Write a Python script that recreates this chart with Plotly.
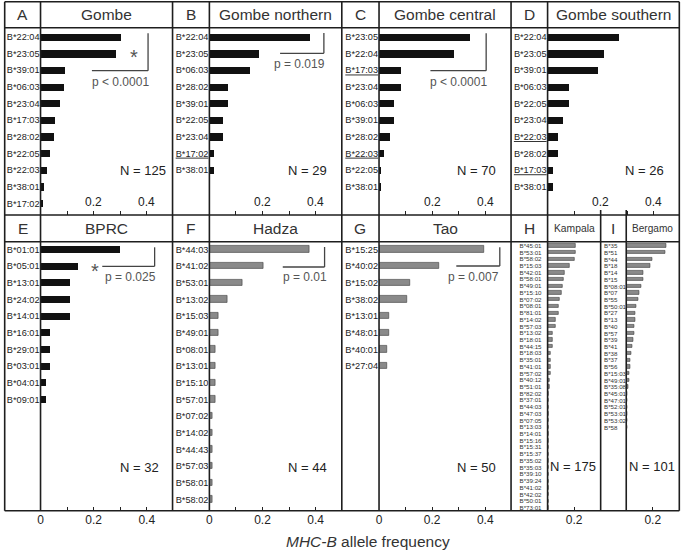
import plotly.graph_objects as go

W, H = 681, 550

# ---------------- data ----------------
a_alleles = ["B*22:04","B*23:05","B*39:01","B*06:03","B*23:04","B*17:03","B*28:02","B*22:05","B*22:03","B*38:01","B*17:02"]
a_freq = [0.302,0.282,0.089,0.086,0.073,0.053,0.049,0.033,0.021,0.013,0.005]

b_alleles = ["B*22:04","B*23:05","B*06:03","B*28:02","B*39:01","B*22:05","B*23:04","B*17:02","B*38:01"]
b_freq = [0.379,0.190,0.156,0.071,0.071,0.053,0.053,0.018,0.018]
b_under = ["B*17:02"]

c_alleles = ["B*23:05","B*22:04","B*17:03","B*23:04","B*06:03","B*39:01","B*28:02","B*22:03","B*22:05","B*38:01"]
c_freq = [0.344,0.282,0.083,0.083,0.056,0.056,0.042,0.020,0.006,0.006]
c_under = ["B*17:03","B*22:03"]

d_alleles = ["B*22:04","B*23:05","B*39:01","B*06:03","B*22:05","B*23:04","B*22:03","B*28:02","B*17:03","B*38:01"]
d_freq = [0.267,0.211,0.190,0.078,0.078,0.058,0.039,0.039,0.019,0.019]
d_under = ["B*22:03","B*17:03"]

e_alleles = ["B*01:01","B*05:01","B*13:01","B*24:02","B*14:01","B*16:01","B*29:01","B*03:01","B*04:01","B*09:01"]
e_freq = [0.297,0.141,0.111,0.111,0.111,0.034,0.034,0.034,0.018,0.018]

f_alleles = ["B*44:03","B*41:02","B*53:01","B*13:02","B*15:03","B*49:01","B*08:01","B*13:01","B*15:10","B*57:01",
             "B*07:02","B*14:02","B*44:43","B*57:03","B*58:01","B*58:02"]
f_freq = [0.375,0.205,0.126,0.069,0.035,0.035,0.024,0.024,0.024,0.024,0.012,0.012,0.012,0.012,0.012,0.012]

g_alleles = ["B*15:25","B*40:02","B*15:02","B*38:02","B*13:01","B*48:01","B*40:01","B*27:04"]
g_freq = [0.394,0.227,0.117,0.107,0.039,0.039,0.029,0.029]

h_alleles = ["B*45:01","B*53:01","B*58:02","B*15:03","B*42:01","B*58:01","B*49:01","B*15:10","B*07:02","B*08:01",
             "B*81:01","B*14:02","B*57:03","B*13:02","B*18:01","B*44:15","B*18:03","B*35:01","B*41:01","B*57:02",
             "B*40:12","B*51:01","B*82:02","B*37:01","B*44:03","B*47:03","B*07:05","B*13:03","B*14:01","B*15:16",
             "B*15:31","B*15:37","B*35:02","B*35:03","B*39:10","B*39:24","B*41:02","B*42:02","B*50:01","B*73:01"]
h_freq = [0.213,0.208,0.203,0.168,0.125,0.118,0.110,0.103,0.093,0.086,
          0.080,0.063,0.058,0.035,0.035,0.035,0.023,0.023,0.023,0.023,
          0.017,0.017,0.011,0.011,0.006,0.006,0.006,0.006,0.006,0.006,
          0.006,0.006,0.006,0.006,0.006,0.006,0.006,0.006,0.006,0.006]

i_alleles = ["B*35","B*51","B*44","B*18","B*14","B*15","B*08:01","B*07","B*55","B*50:01",
             "B*27","B*13","B*40","B*57","B*39","B*41","B*38","B*37","B*56","B*15:03",
             "B*49:01","B*35:08","B*45:01","B*47:01","B*52:01","B*53:01","B*53:02","B*58"]
i_freq = [0.298,0.296,0.195,0.178,0.130,0.130,0.110,0.095,0.088,0.078,
          0.068,0.065,0.063,0.063,0.050,0.045,0.040,0.028,0.028,0.022,
          0.022,0.015,0.010,0.010,0.010,0.010,0.010,0.010]

top_ticks = [0.1, 0.2, 0.3, 0.4]
top_label_vals = [0.2, 0.4]
top_label_text = ["0.2", "0.4"]
bot_ticks = [0, 0.1, 0.2, 0.3, 0.4]
bot_ticktext = ["0", "", "0.2", "", "0.4"]
small_ticks = [0.2]
small_ticktext = ["0.2"]

# ---------------- layout helpers ----------------
def X(px):
    return px / W

def Y(py):
    return 1 - py / H

BLACK = "#111111"
GRAY = "#8a8a8a"
GRAY_LINE = "#3a3a3a"
TXT = "#222222"
FONT = "Liberation Sans"

def ulabel(lbl, under):
    if lbl in under:
        return '<span style="text-decoration:underline">' + lbl + '</span>'
    return lbl

TOP = dict(y0=27.7, y1=215.0, first=37.0, step=16.63)
BOT = dict(y0=241.7, y1=510.7, first=249.3, step=16.67)
SML = dict(y0=241.7, y1=510.7, first=245.7, step=6.72)

panels = [
    (a_alleles, a_freq, [], BLACK, 37.7, 170.3, TOP, 266.7, 0.44, "top"),
    (b_alleles, b_freq, b_under, BLACK, 207.3, 340.3, TOP, 266.7, 0.44, "top"),
    (c_alleles, c_freq, c_under, BLACK, 377.7, 510.3, TOP, 266.7, 0.44, "top"),
    (d_alleles, d_freq, d_under, BLACK, 547.0, 679.0, TOP, 266.7, 0.44, "top"),
    (e_alleles, e_freq, [], BLACK, 37.7, 170.3, BOT, 266.7, 0.42, "bot"),
    (f_alleles, f_freq, [], GRAY, 207.3, 340.3, BOT, 266.7, 0.38, "bot"),
    (g_alleles, g_freq, [], GRAY, 377.7, 510.3, BOT, 266.7, 0.38, "bot"),
    (h_alleles, h_freq, [], GRAY, 547.0, 600.3, SML, 133.3, 0.5, "small"),
    (i_alleles, i_freq, [], GRAY, 626.0, 679.0, SML, 133.3, 0.5, "small_i"),
]

fig = go.Figure()
layout = dict(
    width=W, height=H,
    margin=dict(l=0, r=0, t=0, b=0),
    paper_bgcolor="white", plot_bgcolor="rgba(0,0,0,0)",
    showlegend=False, bargap=0,
    font=dict(family=FONT, color=TXT),
)
annotations = []
shapes = []

for k, (alle, freq, under, col, x0, x1, row, scale, bw, kind) in enumerate(panels):
    n = k + 1
    xa = "x" if n == 1 else "x%d" % n
    ya = "y" if n == 1 else "y%d" % n
    idx = list(range(len(alle)))
    line = dict(color=GRAY_LINE, width=0.6) if col == GRAY else dict(width=0)
    fig.add_trace(go.Bar(
        x=freq, y=idx, orientation="h", width=bw,
        marker=dict(color=col, line=line),
        xaxis=xa, yaxis=ya, hoverinfo="skip",
    ))
    xrng = [0, (x1 - x0) / scale]
    top_idx = (row["y0"] - row["first"]) / row["step"]
    bot_idx = (row["y1"] - row["first"]) / row["step"]
    xaxis = dict(
        domain=[X(x0), X(x1)], anchor=ya, range=xrng,
        showgrid=False, zeroline=False, showline=False,
        ticks="inside", ticklen=4, tickwidth=1.2, tickcolor="#222",
        tickfont=dict(size=12, color=TXT, family=FONT), fixedrange=True,
    )
    if kind == "top":
        xaxis.update(tickmode="array", tickvals=top_ticks, showticklabels=False)
        for v, t in zip(top_label_vals, top_label_text):
            annotations.append(dict(
                x=v, xref=xa, y=Y(201.5), yref="paper", text=t, showarrow=False,
                xanchor="center", yanchor="middle",
                font=dict(size=12, color=TXT, family=FONT),
            ))
    elif kind == "bot":
        xaxis.update(tickmode="array", tickvals=bot_ticks, ticktext=bot_ticktext,
                     ticklabelposition="outside")
    else:
        xaxis.update(tickmode="array", tickvals=small_ticks, ticktext=small_ticktext,
                     ticklabelposition="outside")
    yaxis = dict(
        domain=[Y(row["y1"]), Y(row["y0"])], anchor=xa,
        range=[bot_idx, top_idx],
        showgrid=False, zeroline=False, showline=False, ticks="",
        tickmode="array", tickvals=idx, ticktext=[ulabel(a, under) for a in alle],
        fixedrange=True,
    )
    if kind in ("top", "bot"):
        yaxis.update(tickfont=dict(size=9.2, color=TXT, family=FONT), ticklabelstandoff=0)
    elif kind == "small":
        yaxis.update(tickfont=dict(size=6.2, color="#333", family=FONT), ticklabelstandoff=5)
    else:
        yaxis.update(showticklabels=False)
        for j, a in enumerate(alle):
            annotations.append(dict(
                x=X(601.5), xref="paper", y=j, yref=ya, text=a, showarrow=False,
                xanchor="left", yanchor="middle",
                font=dict(size=6.2, color="#333", family=FONT),
            ))
    layout["xaxis" if n == 1 else "xaxis%d" % n] = xaxis
    layout["yaxis" if n == 1 else "yaxis%d" % n] = yaxis

# ---------------- frame lines ----------------
LC = "#1e1e1e"
LW = 1.6

def hline(y, xa, xb, color=LC, width=LW):
    shapes.append(dict(type="line", xref="paper", yref="paper", x0=X(xa), x1=X(xb),
                       y0=Y(y), y1=Y(y), line=dict(color=color, width=width)))

def vline(x, ya, yb, color=LC, width=LW):
    shapes.append(dict(type="line", xref="paper", yref="paper", x0=X(x), x1=X(x),
                       y0=Y(ya), y1=Y(yb), line=dict(color=color, width=width)))

for yy in [1.7, 27.7, 215.0, 241.7, 510.7]:
    hline(yy, 1.7, 679.3)
for xx in [1.7, 37.7, 170.3, 207.3, 340.3, 377.7, 510.3, 547.0, 679.3]:
    vline(xx, 1.7, 510.7)
for xx in [600.3, 626.0]:
    vline(xx, 210.0, 510.7)

# brackets
BC = "#444444"
for (vx, vy0, vy1, hx0) in [(145.7, 33.3, 70.7, 89.3), (322.3, 33.0, 53.3, 278.3),
                            (485.3, 33.3, 70.7, 429.3), (152.3, 247.3, 266.3, 99.7),
                            (323.0, 247.0, 267.0, 281.0), (499.0, 247.3, 266.0, 455.3)]:
    vline(vx, vy0, vy1, color=BC, width=1.3)
    hline(vy1, hx0, vx, color=BC, width=1.3)

# ---------------- texts ----------------
def txt(x, y, s, size, color=TXT, xanchor="center"):
    annotations.append(dict(x=X(x), y=Y(y), xref="paper", yref="paper", text=s,
                            showarrow=False, xanchor=xanchor, yanchor="middle",
                            font=dict(size=size, color=color, family=FONT)))

HC = "#333333"
for (x, y, s) in [(20, 14.7, "A"), (188.8, 14.7, "B"), (359, 14.7, "C"), (528.7, 14.7, "D"),
                  (20, 228.3, "E"), (188.8, 228.3, "F"), (359, 228.3, "G"), (528.7, 228.3, "H"),
                  (613.2, 228.3, "I")]:
    txt(x, y, s, 15.5, HC)
for (x, y, s) in [(104, 14.7, "Gombe"), (273.8, 14.7, "Gombe northern"), (444, 14.7, "Gombe central"),
                  (613.5, 14.7, "Gombe southern"), (104, 228.3, "BPRC"), (273.8, 228.3, "Hadza"),
                  (444, 228.3, "Tao")]:
    txt(x, y, s, 15.5, HC)
txt(573.7, 228.3, "Kampala", 10.3, HC)
txt(652.5, 228.3, "Bergamo", 10.1, HC)

NC = "#222222"
for (x, y, s) in [(166, 170, "N = 125"), (327, 170, "N = 29"), (497, 170, "N = 70"), (666, 170, "N = 26"),
                  (159, 467.3, "N = 32"), (327, 467.3, "N = 44"), (497, 467.3, "N = 50"),
                  (598, 466, "N = 175"), (676.5, 466, "N = 101")]:
    txt(x, y, s, 13, NC, xanchor="right")

PC = "#555555"
for (x, y, s) in [(117.8, 81.7, "p < 0.0001"), (298, 64.3, "p = 0.019"), (457.8, 81.7, "p < 0.0001"),
                  (127.8, 277.3, "p = 0.025"), (303, 277.3, "p = 0.01"), (472.7, 276.7, "p = 0.007")]:
    txt(x, y, s, 12, PC)
txt(132, 57, "*", 20, PC)
txt(92.3, 270.5, "*", 20, PC)

txt(367, 541.5, "<i>MHC-B</i> allele frequency", 15.5, HC)

layout["annotations"] = annotations
layout["shapes"] = shapes
fig.update_layout(**layout)
fig.write_html(
    "out.html",
    config={"displayModeBar": False},
    post_script="document.body.style.margin='0';document.body.style.padding='0';document.body.style.overflow='hidden';",
)
